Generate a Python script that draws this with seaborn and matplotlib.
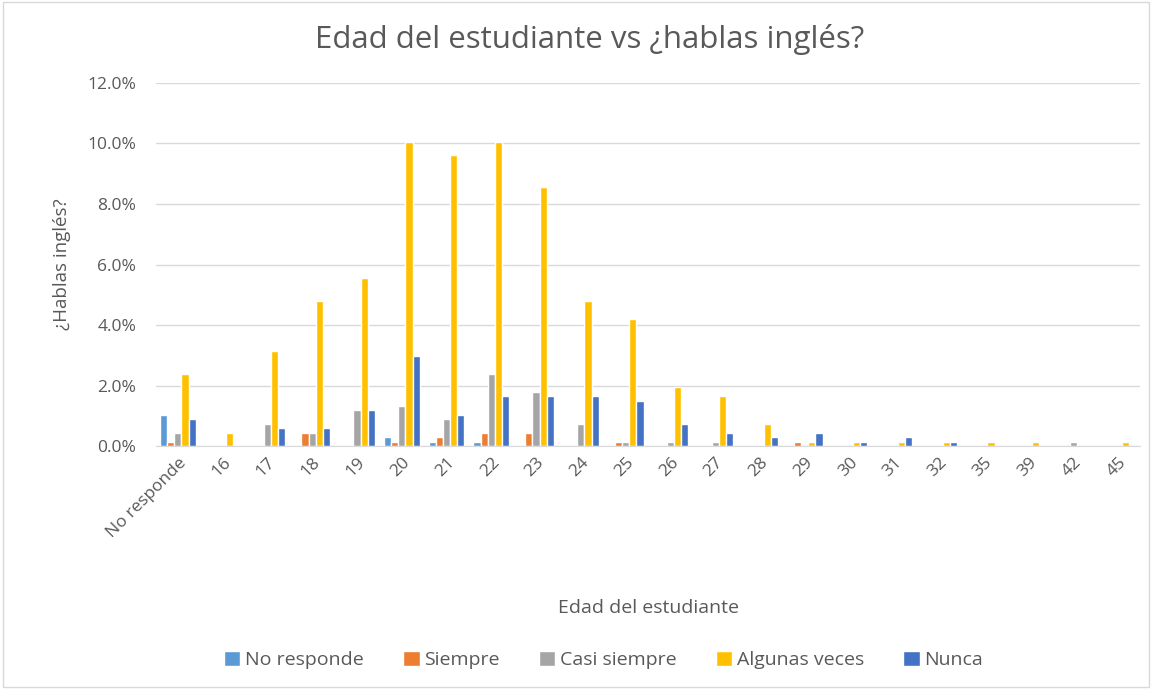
import matplotlib
matplotlib.use("Agg")
import matplotlib.pyplot as plt
import pandas as pd
import seaborn as sns
from matplotlib.patches import Rectangle
from matplotlib.ticker import FuncFormatter

# datos (porcentaje)
edades = ["No responde", "16", "17", "18", "19", "20", "21", "22", "23", "24", "25",
          "26", "27", "28", "29", "30", "31", "32", "35", "39", "42", "45"]
no_responde = [1.05, 0, 0, 0, 0, 0.3, 0.15, 0.15, 0, 0, 0,
               0, 0, 0, 0, 0, 0, 0, 0, 0, 0, 0]
siempre = [0.15, 0, 0, 0.45, 0, 0.15, 0.3, 0.45, 0.45, 0, 0.15,
           0, 0, 0, 0.15, 0, 0, 0, 0, 0, 0, 0]
casi_siempre = [0.45, 0, 0.75, 0.45, 1.2, 1.35, 0.9, 2.4, 1.8, 0.75, 0.15,
                0.15, 0.15, 0, 0, 0, 0, 0, 0, 0, 0.15, 0]
algunas_veces = [2.4, 0.45, 3.15, 4.8, 5.55, 10.05, 9.6, 10.05, 8.55, 4.8, 4.2,
                 1.95, 1.65, 0.75, 0.15, 0.15, 0.15, 0.15, 0.15, 0.15, 0, 0.15]
nunca = [0.9, 0, 0.6, 0.6, 1.2, 3.0, 1.05, 1.65, 1.65, 1.65, 1.5,
         0.75, 0.45, 0.3, 0.45, 0.15, 0.3, 0.15, 0, 0, 0, 0]

series = {
    "No responde": no_responde,
    "Siempre": siempre,
    "Casi siempre": casi_siempre,
    "Algunas veces": algunas_veces,
    "Nunca": nunca,
}
colores = ["#5B9BD5", "#ED7D31", "#A5A5A5", "#FFC000", "#4472C4"]

filas = []
for nombre, valores in series.items():
    for edad, v in zip(edades, valores):
        filas.append({"Edad": edad, "Respuesta": nombre, "Valor": v})
df = pd.DataFrame(filas)

sns.set_style("white")
plt.rcParams["font.family"] = ["Open Sans", "DejaVu Sans"]
texto = "#595959"

fig = plt.figure(figsize=(11.52, 6.89), dpi=100)
ax = fig.add_axes([0.135, 0.352, 0.855, 0.528])

sns.barplot(data=df, x="Edad", y="Valor", hue="Respuesta", order=edades,
            hue_order=list(series.keys()), palette=colores, width=0.8,
            ax=ax, saturation=1, legend=True)

ax.set_ylim(0, 12)
ax.set_yticks([0, 2, 4, 6, 8, 10, 12])
ax.yaxis.set_major_formatter(FuncFormatter(lambda v, p: f"{v:.1f}%"))
ax.grid(axis="y", color="#D9D9D9", linewidth=1)
ax.set_axisbelow(True)
for lado in ["top", "right", "left"]:
    ax.spines[lado].set_visible(False)
ax.spines["bottom"].set_color("#D9D9D9")
ax.tick_params(axis="both", length=0, colors=texto, labelsize=12.5)
ax.tick_params(axis="y", pad=14)
ax.tick_params(axis="x", pad=6)
ax.set_xlim(-0.5, len(edades) - 0.5)
plt.setp(ax.get_xticklabels(), rotation=45, ha="right", rotation_mode="anchor")

fig.text(0.512, 0.942, "Edad del estudiante vs ¿hablas inglés?", fontsize=22.5,
         color=texto, ha="center", va="center")
ax.set_ylabel("¿Hablas inglés?", fontsize=13.5, color=texto, labelpad=12)
ax.set_xlabel("Edad del estudiante", fontsize=14, color=texto, labelpad=42)

ax.legend_.remove()
handles, labels = ax.get_legend_handles_labels()
fig.legend(handles, labels, loc="center", bbox_to_anchor=(0.524, 0.042), ncol=5,
           frameon=False, fontsize=14, handlelength=0.85, handleheight=0.85,
           handletextpad=0.25, columnspacing=2.0, labelcolor=texto)

fig.patches.append(Rectangle((0.003, 0.003), 0.994, 0.994, transform=fig.transFigure,
                             fill=False, edgecolor="#D9D9D9", linewidth=1))

fig.savefig("out.png", dpi=100)
